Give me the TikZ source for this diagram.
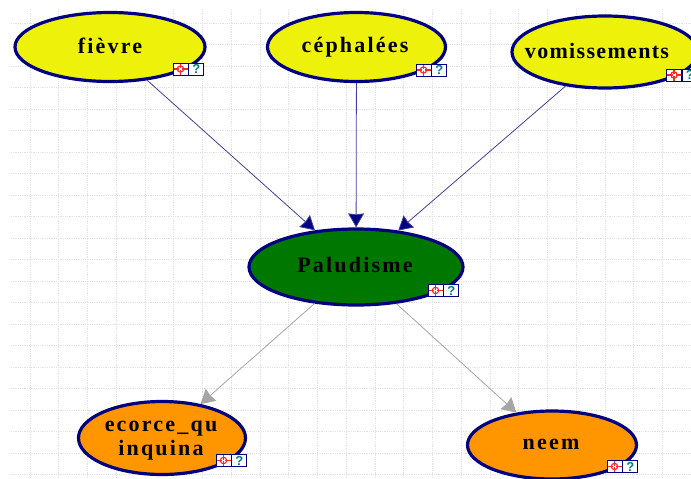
\documentclass[tikz,border=0pt]{standalone}
\usepackage{fontspec}
\setmainfont{Liberation Serif}
\newfontfamily\labelfont[LetterSpace=10]{Liberation Serif}
\newfontfamily\tightlabelfont[LetterSpace=6]{Liberation Serif}
\newfontfamily\iconfont{Liberation Sans}
\usetikzlibrary{shapes.geometric,arrows.meta}
\definecolor{edgeblue}{RGB}{0,0,128}
\definecolor{ylw}{RGB}{238,242,10}
\definecolor{grn}{RGB}{0,120,0}
\definecolor{org}{RGB}{255,150,0}
\definecolor{gridc}{RGB}{226,226,226}
\definecolor{arrg}{RGB}{165,165,165}
\definecolor{teal2}{RGB}{0,125,125}
\tikzset{
  bn/.style={ellipse,draw=edgeblue,line width=3.2pt,inner sep=0pt},
  yn/.style={bn,fill=ylw},
  lbl/.style={font=\labelfont\bfseries\fontsize{22}{24}\selectfont,align=center,inner sep=0pt},
  tlbl/.style={font=\tightlabelfont\bfseries\fontsize{22}{24}\selectfont,align=center,inner sep=0pt},
  link/.style={draw=edgeblue!75!white,line width=0.8pt,-{Stealth[length=14pt,width=16pt,inset=1pt,fill=edgeblue]}},
  glink/.style={draw=arrg,line width=0.8pt,-{Stealth[length=14pt,width=16pt,inset=1pt,fill=arrg]}},
  iconbox/.style={draw=edgeblue,fill=white,line width=0.9pt,minimum width=15pt,minimum height=12pt,inner sep=0pt,
    font=\iconfont\bfseries\fontsize{13}{13}\selectfont,text=teal2},
  gridl/.style={draw=gridc,line width=0.8pt,densely dotted}
}
\newcommand{\icons}[3]{%
  \node[iconbox] (#1a) at (#2,#3) {};
  \node[iconbox,anchor=west] (#1b) at (#1a.east) {?};
  \draw[red!85,line width=1.1pt] (#1a) circle (3.2pt);
  \draw[red!85,line width=1.1pt] ([yshift=-5.5pt]#1a.center) -- ([yshift=5.5pt]#1a.center)
     ([xshift=-7pt]#1a.center) -- ([xshift=7pt]#1a.center);
  \draw[white,line width=1.2pt] ([xshift=-1.5pt]#1a.center) -- ([xshift=1.5pt]#1a.center);
}
\begin{document}
\begin{tikzpicture}[x=1pt,y=-1pt]
\useasboundingbox (0,0) rectangle (691,479);
\clip (0,0) rectangle (691,479);
\fill[white] (0,0) rectangle (691,479);
\foreach \i in {0,...,23} \draw[gridl] ({30+28.75*\i},9) -- ({30+28.75*\i},479);
\foreach \j in {0,...,21} \draw[gridl] (11,{23+21.5*\j}) -- (691,{23+21.5*\j});

\node[yn,minimum width=190pt,minimum height=69pt] (fievre) at (110,47) {};
\node[yn,minimum width=178pt,minimum height=69pt] (ceph) at (356.5,47) {};
\node[yn,minimum width=186pt,minimum height=72pt] (vomi) at (605,52) {};
\node[bn,fill=grn,minimum width=214pt,minimum height=76pt] (palu) at (356,267) {};
\node[bn,fill=org,minimum width=167pt,minimum height=73pt] (ecorce) at (162,438) {};
\node[bn,fill=org,minimum width=169pt,minimum height=68pt] (neem) at (552,445) {};

\node[lbl] (t1) at (110,46) {fièvre};
\node[lbl] (t2) at (355,47) {céphalées};
\node[tlbl] (t3) at (597,51) {vomissements};
\node[lbl] (t4) at (355,265) {Paludisme};
\node[lbl] (t5) at (161,441) {ecorce\_qu\\[0pt]inquina};
\node[lbl] (t6) at (551,444) {neem};

\draw[link] (fievre) -- (palu);
\draw[link] (ceph) -- (palu);
\draw[link] (vomi) -- (palu);
\draw[glink] (palu) -- (ecorce);
\draw[glink] (palu) -- (neem);

\icons{ia}{180.5}{69}
\icons{ib}{423.5}{70}
\icons{ic}{674}{75}
\icons{id}{435.5}{290.5}
\icons{ie}{223.5}{460.5}
\icons{if}{614.5}{466.5}
\end{tikzpicture}
\end{document}
